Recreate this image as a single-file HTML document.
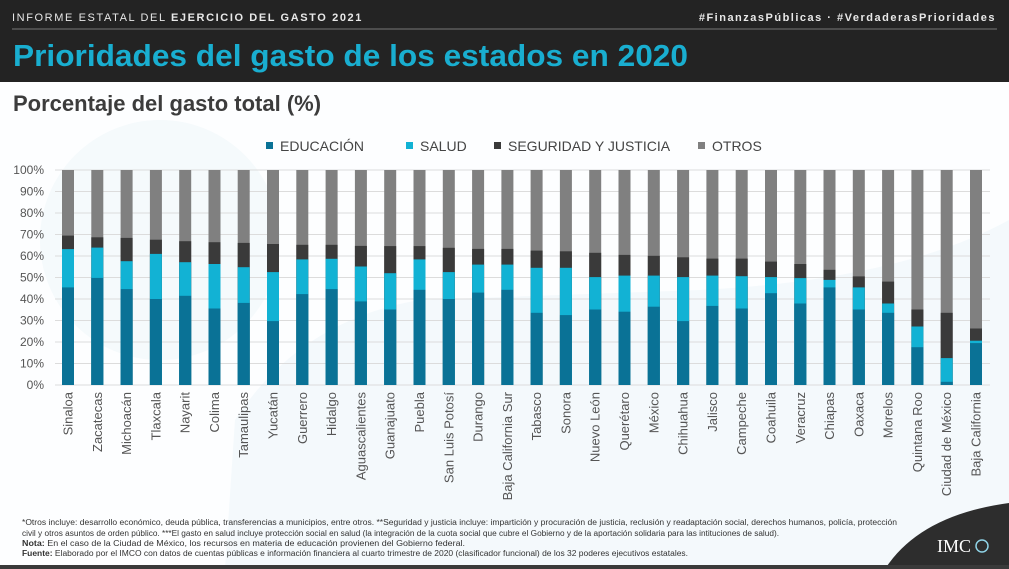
<!DOCTYPE html>
<html><head><meta charset="utf-8"><style>
html,body{margin:0;padding:0;background:#fff;}
svg{display:block;font-family:"Liberation Sans",sans-serif;}
</style></head><body>
<svg width="1009" height="569" viewBox="0 0 1009 569" xmlns="http://www.w3.org/2000/svg">
<rect width="1009" height="569" fill="#fdfeff"/>
<circle cx="160" cy="240" r="120" fill="#f1f8fb" opacity="0.7"/>
<path d="M225 569 L235 420 Q300 320 420 300 L700 290 Q900 280 1009 220 L1009 569 Z" fill="#f1f8fb" opacity="0.8"/>
<rect x="0" y="0" width="1009" height="82" fill="#232323"/>
<line x1="12" y1="29" x2="997" y2="29" stroke="#777" stroke-width="1"/>
<text x="12" y="21" font-size="11" fill="#e8e8e8" letter-spacing="1.6">INFORME ESTATAL DEL <tspan font-weight="bold">EJERCICIO DEL GASTO 2021</tspan></text>
<text x="996" y="21" font-size="11" fill="#e8e8e8" font-weight="bold" letter-spacing="1.5" text-anchor="end">#FinanzasPúblicas · #VerdaderasPrioridades</text>
<text x="13" y="66" font-size="31" font-weight="bold" fill="#19aed0" textLength="675" lengthAdjust="spacingAndGlyphs">Prioridades del gasto de los estados en 2020</text>
<text x="13" y="111" font-size="22" font-weight="bold" fill="#3c3c3c">Porcentaje del gasto total (%)</text>
<g font-size="14" fill="#444">
<rect x="266" y="142" width="7" height="7" fill="#0a7296"/><text x="280" y="151">EDUCACIÓN</text>
<rect x="406" y="142" width="7" height="7" fill="#12b2d4"/><text x="420" y="151">SALUD</text>
<rect x="494" y="142" width="7" height="7" fill="#3a3a3a"/><text x="508" y="151">SEGURIDAD Y JUSTICIA</text>
<rect x="698" y="142" width="7" height="7" fill="#808080"/><text x="712" y="151">OTROS</text>
</g>
<g stroke="#dcdcdc" stroke-width="1">
<line x1="55" y1="170" x2="990" y2="170"/><line x1="55" y1="191.5" x2="990" y2="191.5"/>
<line x1="55" y1="213" x2="990" y2="213"/><line x1="55" y1="234.5" x2="990" y2="234.5"/>
<line x1="55" y1="256" x2="990" y2="256"/><line x1="55" y1="277.5" x2="990" y2="277.5"/>
<line x1="55" y1="299" x2="990" y2="299"/><line x1="55" y1="320.5" x2="990" y2="320.5"/>
<line x1="55" y1="342" x2="990" y2="342"/><line x1="55" y1="363.5" x2="990" y2="363.5"/>
<line x1="55" y1="385" x2="990" y2="385"/>
</g>
<g font-size="12" fill="#555" text-anchor="end">
<text x="44" y="174">100%</text><text x="44" y="195.5">90%</text><text x="44" y="217">80%</text>
<text x="44" y="238.5">70%</text><text x="44" y="260">60%</text><text x="44" y="281.5">50%</text>
<text x="44" y="303">40%</text><text x="44" y="324.5">30%</text><text x="44" y="346">20%</text>
<text x="44" y="367.5">10%</text><text x="44" y="389">0%</text>
</g>
<g>
<g transform="translate(68,0)"><rect x="-6" y="170" width="12" height="215" fill="#808080"/><rect x="-6" y="235.6" width="12" height="149.4" fill="#3a3a3a"/><rect x="-6" y="249.1" width="12" height="135.9" fill="#12b2d4"/><rect x="-6" y="287.4" width="12" height="97.6" fill="#0a7296"/></g>
<g transform="translate(97.3,0)"><rect x="-6" y="170" width="12" height="215" fill="#808080"/><rect x="-6" y="237.3" width="12" height="147.7" fill="#3a3a3a"/><rect x="-6" y="247.6" width="12" height="137.4" fill="#12b2d4"/><rect x="-6" y="277.9" width="12" height="107.1" fill="#0a7296"/></g>
<g transform="translate(126.6,0)"><rect x="-6" y="170" width="12" height="215" fill="#808080"/><rect x="-6" y="237.9" width="12" height="147.1" fill="#3a3a3a"/><rect x="-6" y="261.2" width="12" height="123.8" fill="#12b2d4"/><rect x="-6" y="289.1" width="12" height="95.9" fill="#0a7296"/></g>
<g transform="translate(155.9,0)"><rect x="-6" y="170" width="12" height="215" fill="#808080"/><rect x="-6" y="239.7" width="12" height="145.3" fill="#3a3a3a"/><rect x="-6" y="253.9" width="12" height="131.1" fill="#12b2d4"/><rect x="-6" y="299" width="12" height="86" fill="#0a7296"/></g>
<g transform="translate(185.2,0)"><rect x="-6" y="170" width="12" height="215" fill="#808080"/><rect x="-6" y="241.2" width="12" height="143.8" fill="#3a3a3a"/><rect x="-6" y="262.2" width="12" height="122.8" fill="#12b2d4"/><rect x="-6" y="295.8" width="12" height="89.2" fill="#0a7296"/></g>
<g transform="translate(214.5,0)"><rect x="-6" y="170" width="12" height="215" fill="#808080"/><rect x="-6" y="242.2" width="12" height="142.8" fill="#3a3a3a"/><rect x="-6" y="264" width="12" height="121" fill="#12b2d4"/><rect x="-6" y="308.5" width="12" height="76.5" fill="#0a7296"/></g>
<g transform="translate(243.7,0)"><rect x="-6" y="170" width="12" height="215" fill="#808080"/><rect x="-6" y="242.9" width="12" height="142.1" fill="#3a3a3a"/><rect x="-6" y="267.2" width="12" height="117.8" fill="#12b2d4"/><rect x="-6" y="302.9" width="12" height="82.1" fill="#0a7296"/></g>
<g transform="translate(273,0)"><rect x="-6" y="170" width="12" height="215" fill="#808080"/><rect x="-6" y="244" width="12" height="141" fill="#3a3a3a"/><rect x="-6" y="272.1" width="12" height="112.9" fill="#12b2d4"/><rect x="-6" y="321.1" width="12" height="63.9" fill="#0a7296"/></g>
<g transform="translate(302.3,0)"><rect x="-6" y="170" width="12" height="215" fill="#808080"/><rect x="-6" y="244.8" width="12" height="140.2" fill="#3a3a3a"/><rect x="-6" y="259.4" width="12" height="125.6" fill="#12b2d4"/><rect x="-6" y="294.1" width="12" height="90.9" fill="#0a7296"/></g>
<g transform="translate(331.6,0)"><rect x="-6" y="170" width="12" height="215" fill="#808080"/><rect x="-6" y="244.8" width="12" height="140.2" fill="#3a3a3a"/><rect x="-6" y="258.8" width="12" height="126.2" fill="#12b2d4"/><rect x="-6" y="289.1" width="12" height="95.9" fill="#0a7296"/></g>
<g transform="translate(360.9,0)"><rect x="-6" y="170" width="12" height="215" fill="#808080"/><rect x="-6" y="245.9" width="12" height="139.1" fill="#3a3a3a"/><rect x="-6" y="266.5" width="12" height="118.5" fill="#12b2d4"/><rect x="-6" y="301.4" width="12" height="83.6" fill="#0a7296"/></g>
<g transform="translate(390.2,0)"><rect x="-6" y="170" width="12" height="215" fill="#808080"/><rect x="-6" y="246.1" width="12" height="138.9" fill="#3a3a3a"/><rect x="-6" y="273.2" width="12" height="111.8" fill="#12b2d4"/><rect x="-6" y="309.5" width="12" height="75.5" fill="#0a7296"/></g>
<g transform="translate(419.5,0)"><rect x="-6" y="170" width="12" height="215" fill="#808080"/><rect x="-6" y="246.1" width="12" height="138.9" fill="#3a3a3a"/><rect x="-6" y="259.4" width="12" height="125.6" fill="#12b2d4"/><rect x="-6" y="289.8" width="12" height="95.2" fill="#0a7296"/></g>
<g transform="translate(448.8,0)"><rect x="-6" y="170" width="12" height="215" fill="#808080"/><rect x="-6" y="247.8" width="12" height="137.2" fill="#3a3a3a"/><rect x="-6" y="272.1" width="12" height="112.9" fill="#12b2d4"/><rect x="-6" y="299" width="12" height="86" fill="#0a7296"/></g>
<g transform="translate(478.1,0)"><rect x="-6" y="170" width="12" height="215" fill="#808080"/><rect x="-6" y="248.9" width="12" height="136.1" fill="#3a3a3a"/><rect x="-6" y="264.6" width="12" height="120.4" fill="#12b2d4"/><rect x="-6" y="292.6" width="12" height="92.4" fill="#0a7296"/></g>
<g transform="translate(507.4,0)"><rect x="-6" y="170" width="12" height="215" fill="#808080"/><rect x="-6" y="248.9" width="12" height="136.1" fill="#3a3a3a"/><rect x="-6" y="264.6" width="12" height="120.4" fill="#12b2d4"/><rect x="-6" y="289.8" width="12" height="95.2" fill="#0a7296"/></g>
<g transform="translate(536.6,0)"><rect x="-6" y="170" width="12" height="215" fill="#808080"/><rect x="-6" y="250.6" width="12" height="134.4" fill="#3a3a3a"/><rect x="-6" y="267.8" width="12" height="117.2" fill="#12b2d4"/><rect x="-6" y="312.8" width="12" height="72.2" fill="#0a7296"/></g>
<g transform="translate(565.9,0)"><rect x="-6" y="170" width="12" height="215" fill="#808080"/><rect x="-6" y="251.3" width="12" height="133.7" fill="#3a3a3a"/><rect x="-6" y="267.8" width="12" height="117.2" fill="#12b2d4"/><rect x="-6" y="315.1" width="12" height="69.9" fill="#0a7296"/></g>
<g transform="translate(595.2,0)"><rect x="-6" y="170" width="12" height="215" fill="#808080"/><rect x="-6" y="252.8" width="12" height="132.2" fill="#3a3a3a"/><rect x="-6" y="277.1" width="12" height="107.9" fill="#12b2d4"/><rect x="-6" y="309.5" width="12" height="75.5" fill="#0a7296"/></g>
<g transform="translate(624.5,0)"><rect x="-6" y="170" width="12" height="215" fill="#808080"/><rect x="-6" y="254.9" width="12" height="130.1" fill="#3a3a3a"/><rect x="-6" y="275.6" width="12" height="109.4" fill="#12b2d4"/><rect x="-6" y="311.7" width="12" height="73.3" fill="#0a7296"/></g>
<g transform="translate(653.8,0)"><rect x="-6" y="170" width="12" height="215" fill="#808080"/><rect x="-6" y="255.8" width="12" height="129.2" fill="#3a3a3a"/><rect x="-6" y="275.6" width="12" height="109.4" fill="#12b2d4"/><rect x="-6" y="306.7" width="12" height="78.3" fill="#0a7296"/></g>
<g transform="translate(683.1,0)"><rect x="-6" y="170" width="12" height="215" fill="#808080"/><rect x="-6" y="257.3" width="12" height="127.7" fill="#3a3a3a"/><rect x="-6" y="277.1" width="12" height="107.9" fill="#12b2d4"/><rect x="-6" y="321.1" width="12" height="63.9" fill="#0a7296"/></g>
<g transform="translate(712.4,0)"><rect x="-6" y="170" width="12" height="215" fill="#808080"/><rect x="-6" y="258.6" width="12" height="126.4" fill="#3a3a3a"/><rect x="-6" y="275.6" width="12" height="109.4" fill="#12b2d4"/><rect x="-6" y="305.9" width="12" height="79.1" fill="#0a7296"/></g>
<g transform="translate(741.7,0)"><rect x="-6" y="170" width="12" height="215" fill="#808080"/><rect x="-6" y="258.6" width="12" height="126.4" fill="#3a3a3a"/><rect x="-6" y="276.2" width="12" height="108.8" fill="#12b2d4"/><rect x="-6" y="308.5" width="12" height="76.5" fill="#0a7296"/></g>
<g transform="translate(771,0)"><rect x="-6" y="170" width="12" height="215" fill="#808080"/><rect x="-6" y="261.6" width="12" height="123.4" fill="#3a3a3a"/><rect x="-6" y="277.1" width="12" height="107.9" fill="#12b2d4"/><rect x="-6" y="293.2" width="12" height="91.8" fill="#0a7296"/></g>
<g transform="translate(800.3,0)"><rect x="-6" y="170" width="12" height="215" fill="#808080"/><rect x="-6" y="264" width="12" height="121" fill="#3a3a3a"/><rect x="-6" y="278.1" width="12" height="106.9" fill="#12b2d4"/><rect x="-6" y="303.5" width="12" height="81.5" fill="#0a7296"/></g>
<g transform="translate(829.5,0)"><rect x="-6" y="170" width="12" height="215" fill="#808080"/><rect x="-6" y="269.8" width="12" height="115.2" fill="#3a3a3a"/><rect x="-6" y="279.9" width="12" height="105.1" fill="#12b2d4"/><rect x="-6" y="287.4" width="12" height="97.6" fill="#0a7296"/></g>
<g transform="translate(858.8,0)"><rect x="-6" y="170" width="12" height="215" fill="#808080"/><rect x="-6" y="276.4" width="12" height="108.6" fill="#3a3a3a"/><rect x="-6" y="287.4" width="12" height="97.6" fill="#12b2d4"/><rect x="-6" y="309.5" width="12" height="75.5" fill="#0a7296"/></g>
<g transform="translate(888.1,0)"><rect x="-6" y="170" width="12" height="215" fill="#808080"/><rect x="-6" y="281.6" width="12" height="103.4" fill="#3a3a3a"/><rect x="-6" y="303.5" width="12" height="81.5" fill="#12b2d4"/><rect x="-6" y="312.8" width="12" height="72.2" fill="#0a7296"/></g>
<g transform="translate(917.4,0)"><rect x="-6" y="170" width="12" height="215" fill="#808080"/><rect x="-6" y="309.5" width="12" height="75.5" fill="#3a3a3a"/><rect x="-6" y="326.5" width="12" height="58.5" fill="#12b2d4"/><rect x="-6" y="347.2" width="12" height="37.8" fill="#0a7296"/></g>
<g transform="translate(946.7,0)"><rect x="-6" y="170" width="12" height="215" fill="#808080"/><rect x="-6" y="312.8" width="12" height="72.2" fill="#3a3a3a"/><rect x="-6" y="358.1" width="12" height="26.9" fill="#12b2d4"/><rect x="-6" y="381.8" width="12" height="3.2" fill="#0a7296"/></g>
<g transform="translate(976,0)"><rect x="-6" y="170" width="12" height="215" fill="#808080"/><rect x="-6" y="328.5" width="12" height="56.5" fill="#3a3a3a"/><rect x="-6" y="340.7" width="12" height="44.3" fill="#12b2d4"/><rect x="-6" y="343.1" width="12" height="41.9" fill="#0a7296"/></g>
</g>
<g font-size="13" fill="#555" text-anchor="end">
<text transform="translate(72.5,392) rotate(-90)">Sinaloa</text>
<text transform="translate(101.8,392) rotate(-90)">Zacatecas</text>
<text transform="translate(131.1,392) rotate(-90)">Michoacán</text>
<text transform="translate(160.4,392) rotate(-90)">Tlaxcala</text>
<text transform="translate(189.7,392) rotate(-90)">Nayarit</text>
<text transform="translate(219,392) rotate(-90)">Colima</text>
<text transform="translate(248.2,392) rotate(-90)">Tamaulipas</text>
<text transform="translate(277.5,392) rotate(-90)">Yucatán</text>
<text transform="translate(306.8,392) rotate(-90)">Guerrero</text>
<text transform="translate(336.1,392) rotate(-90)">Hidalgo</text>
<text transform="translate(365.4,392) rotate(-90)">Aguascalientes</text>
<text transform="translate(394.7,392) rotate(-90)">Guanajuato</text>
<text transform="translate(424,392) rotate(-90)">Puebla</text>
<text transform="translate(453.3,392) rotate(-90)">San Luis Potosí</text>
<text transform="translate(482.6,392) rotate(-90)">Durango</text>
<text transform="translate(511.9,392) rotate(-90)">Baja California Sur</text>
<text transform="translate(541.1,392) rotate(-90)">Tabasco</text>
<text transform="translate(570.4,392) rotate(-90)">Sonora</text>
<text transform="translate(599.7,392) rotate(-90)">Nuevo León</text>
<text transform="translate(629,392) rotate(-90)">Querétaro</text>
<text transform="translate(658.3,392) rotate(-90)">México</text>
<text transform="translate(687.6,392) rotate(-90)">Chihuahua</text>
<text transform="translate(716.9,392) rotate(-90)">Jalisco</text>
<text transform="translate(746.2,392) rotate(-90)">Campeche</text>
<text transform="translate(775.5,392) rotate(-90)">Coahuila</text>
<text transform="translate(804.8,392) rotate(-90)">Veracruz</text>
<text transform="translate(834,392) rotate(-90)">Chiapas</text>
<text transform="translate(863.3,392) rotate(-90)">Oaxaca</text>
<text transform="translate(892.6,392) rotate(-90)">Morelos</text>
<text transform="translate(921.9,392) rotate(-90)">Quintana Roo</text>
<text transform="translate(951.2,392) rotate(-90)">Ciudad de México</text>
<text transform="translate(980.5,392) rotate(-90)">Baja California</text>
</g>
<g font-size="8" fill="#333">
<text x="22" y="525" textLength="875" lengthAdjust="spacingAndGlyphs">*Otros incluye: desarrollo económico, deuda pública, transferencias a municipios, entre otros.  **Seguridad y justicia incluye: impartición y procuración de justicia, reclusión y readaptación social, derechos humanos, policía, protección</text>
<text x="22" y="536" textLength="757" lengthAdjust="spacingAndGlyphs">civil y otros asuntos de orden público. ***El gasto en salud incluye protección social en salud (la integración de la cuota social que cubre el Gobierno y de la aportación solidaria para las intituciones de salud).</text>
<text x="22" y="546" textLength="443" lengthAdjust="spacingAndGlyphs"><tspan font-weight="bold">Nota:</tspan> En el caso de la Ciudad de México, los recursos en materia de educación provienen del Gobierno federal.</text>
<text x="22" y="556" textLength="666" lengthAdjust="spacingAndGlyphs"><tspan font-weight="bold">Fuente:</tspan> Elaborado por el IMCO con datos de cuentas públicas e información financiera al cuarto trimestre de 2020 (clasificador funcional) de los 32 poderes ejecutivos estatales.</text>
</g>
<path d="M885 569 Q920 515 1009 503 L1009 569 Z" fill="#2d2d2d"/>
<text x="937" y="552" font-family="Liberation Serif,serif" font-size="18" fill="#ffffff">IMC</text>
<circle cx="982" cy="546" r="6" fill="none" stroke="#8fd3e6" stroke-width="1.5"/>
<rect x="0" y="565" width="1009" height="4" fill="#3a3a3a"/>
</svg>
</body></html>
